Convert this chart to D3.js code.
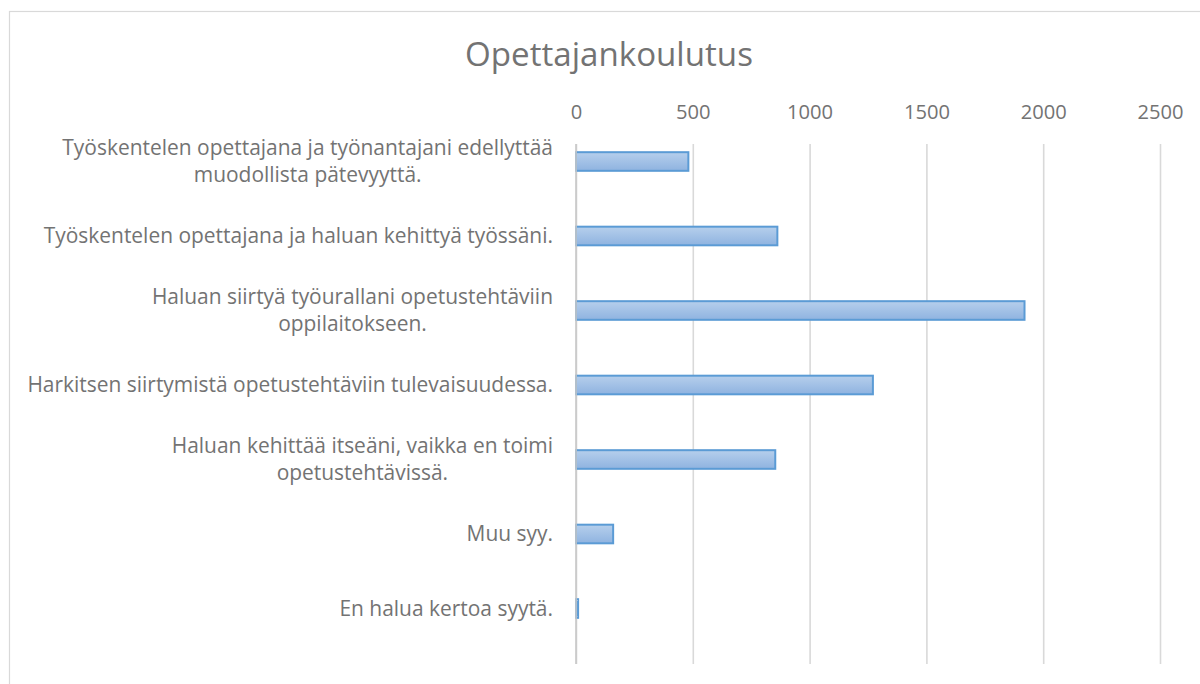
<!DOCTYPE html>
<html>
<head>
<meta charset="utf-8">
<script src="https://cdn.jsdelivr.net/npm/d3@7"></script>
<style>
html,body{margin:0;padding:0;background:#fff;}
svg{display:block;}
</style>
</head>
<body>
<svg id="chart" width="1200" height="684"></svg>
<script>
const title = "Opettajankoulutus";
const categories = [
  "Työskentelen opettajana ja työnantajani edellyttää\nmuodollista pätevyyttä.",
  "Työskentelen opettajana ja haluan kehittyä työssäni.",
  "Haluan siirtyä työurallani opetustehtäviin\noppilaitokseen.",
  "Harkitsen siirtymistä opetustehtäviin tulevaisuudessa.",
  "Haluan kehittää itseäni, vaikka en toimi\nopetustehtävissä.",
  "Muu syy.",
  "En halua kertoa syytä."
];
const values = [481, 862, 1920, 1271, 853, 159, 9];
const tickValues = [0, 500, 1000, 1500, 2000, 2500];

const svg = d3.select("#chart");
const font = "'Open Sans', Lato, sans-serif";
const textColor = "#737373";

function fitSize(txt, base, target) {
  const t = svg.append("text").attr("font-family", font).attr("font-size", base).text(txt);
  const w = t.node().getComputedTextLength();
  t.remove();
  return base * target / w;
}

// chart border
svg.append("rect")
  .attr("x", 9.5).attr("y", 11.5)
  .attr("width", 1200).attr("height", 700)
  .attr("fill", "#fff").attr("stroke", "#d9d9d9").attr("stroke-width", 1.2);

const x = d3.scaleLinear().domain([0, 2500]).range([576, 1160]);
const y = d3.scaleBand().domain(categories).range([124.25, 645.75]).paddingInner(0.75).paddingOuter(0.375);

const defs = svg.append("defs");
const grad = defs.append("linearGradient").attr("id", "barGrad")
  .attr("x1", 0).attr("y1", 0).attr("x2", 0).attr("y2", 1);
grad.append("stop").attr("offset", "0%").attr("stop-color", "#b6cfec");
grad.append("stop").attr("offset", "100%").attr("stop-color", "#8fb3e0");

// gridlines
const grid = svg.append("g")
  .attr("transform", "translate(0,144)")
  .call(d3.axisTop(x).tickValues(tickValues).tickSize(-520).tickFormat(""));
grid.select(".domain").remove();
grid.selectAll(".tick line").attr("stroke", "#d9d9d9").attr("stroke-width", 1.6);

// tick labels
const tickSize = fitSize("2500", 18, 46);
const xAxis = svg.append("g")
  .attr("transform", "translate(0,119)")
  .call(d3.axisTop(x).tickValues(tickValues).tickSize(0).tickPadding(0).tickFormat(d3.format("d")));
xAxis.select(".domain").remove();
xAxis.selectAll("text")
  .attr("font-family", font).attr("font-size", tickSize).attr("fill", textColor)
  .attr("dy", 0);

// bars
svg.append("g").selectAll("rect")
  .data(values)
  .join("rect")
  .attr("x", x(0))
  .attr("y", (d, i) => y(categories[i]))
  .attr("width", d => Math.max(x(d) - x(0), 1))
  .attr("height", y.bandwidth())
  .attr("fill", "url(#barGrad)")
  .attr("stroke", "#5b9bd5")
  .attr("stroke-width", 2);

// y axis line
svg.append("line")
  .attr("x1", x(0)).attr("x2", x(0)).attr("y1", 144).attr("y2", 664)
  .attr("stroke", "#c8c8c8").attr("stroke-width", 1.6);

// category labels
const labelRight = 553;
const labelSize = fitSize(categories[0].split("\n")[0], 18, 491);
const lineH = 27;
const labels = svg.append("g");
categories.forEach((c, i) => {
  const lines = c.split("\n");
  const cy = y(c) + y.bandwidth() / 2;
  const t = labels.append("text")
    .attr("font-family", font).attr("font-size", labelSize).attr("fill", textColor);
  lines.forEach((ln, k) => {
    t.append("tspan").text(ln)
      .attr("y", cy + (k - (lines.length - 1) / 2) * lineH)
      .attr("dy", "0.35em");
  });
  const widths = [];
  t.selectAll("tspan").each(function(){ widths.push(this.getComputedTextLength()); });
  const maxW = d3.max(widths);
  t.selectAll("tspan").attr("x", labelRight - maxW / 2).attr("text-anchor", "middle");
});

// title
const titleSize = fitSize(title, 28, 288);
svg.append("text")
  .attr("x", 609).attr("y", 66)
  .attr("text-anchor", "middle")
  .attr("font-family", font).attr("font-size", titleSize).attr("fill", textColor)
  .text(title);
</script>
</body>
</html>
